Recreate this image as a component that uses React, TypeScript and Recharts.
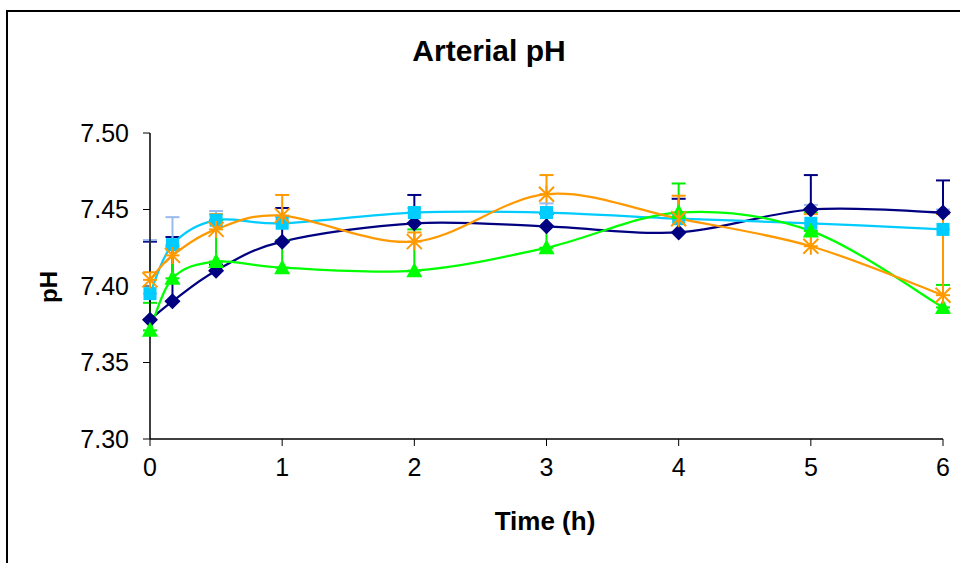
import React from 'react';
import { LineChart, Line, XAxis, YAxis, ErrorBar } from 'recharts';

/* ---------------------------------------------------------------------------
   Data
   --------------------------------------------------------------------------- */

const times = [0, 0.17, 0.5, 1, 2, 3, 4, 5, 6];

const navyPH   = [7.378, 7.390, 7.410, 7.429, 7.441, 7.439, 7.435, 7.450, 7.448];
const navyErr  = [0.051, 0.042, 0.004, 0.022, 0.0185, 0.008, 0.022, 0.0225, 0.021];

const cyanPH   = [7.395, 7.427, 7.443, 7.441, 7.448, 7.448, 7.444, 7.441, 7.437];
const cyanErr  = [0.035, 0.018, 0.006, 0.004, 0.003, 0.006, 0.003, 0.012, 0.013];

const greenPH  = [7.371, 7.405, 7.416, 7.412, 7.410, 7.425, 7.448, 7.436, 7.386];
const greenErr = [0.018, 0.021, 0.027, 0.018, 0.027, 0.014, 0.019, 0.012, 0.0147];

const orangePH  = [7.404, 7.420, 7.437, 7.446, 7.429, 7.460, 7.444, 7.426, 7.394];
const orangeErr = [0.005, 0.004, 0.010, 0.0135, 0.006, 0.0125, 0.015, 0.021, 0.053];

const xTicks = [0, 1, 2, 3, 4, 5, 6];
const yTicks = [7.30, 7.35, 7.40, 7.45, 7.50];

const data = times.map((t, i) => ({
  t,
  navy: navyPH[i],
  navyE: [0, navyErr[i]],
  cyan: cyanPH[i],
  cyanE: [0, cyanErr[i]],
  green: greenPH[i],
  greenE: [0, greenErr[i]],
  orange: orangePH[i],
  orangeE: [0, orangeErr[i]],
}));

/* ---------------------------------------------------------------------------
   Excel-style smoothing (Catmull-Rom through the points)
   --------------------------------------------------------------------------- */

function excelSmooth(context: any) {
  let pts: number[][] = [];
  return {
    areaStart() {},
    areaEnd() {},
    lineStart() { pts = []; },
    point(x: number, y: number) { pts.push([+x, +y]); },
    lineEnd() {
      if (!pts.length) return;
      context.moveTo(pts[0][0], pts[0][1]);
      for (let i = 0; i < pts.length - 1; i++) {
        const p0 = pts[i - 1] || pts[i];
        const p1 = pts[i];
        const p2 = pts[i + 1];
        const p3 = pts[i + 2] || p2;
        context.bezierCurveTo(
          p1[0] + (p2[0] - p0[0]) / 6, p1[1] + (p2[1] - p0[1]) / 6,
          p2[0] - (p3[0] - p1[0]) / 6, p2[1] - (p3[1] - p1[1]) / 6,
          p2[0], p2[1],
        );
      }
    },
  };
}

/* ---------------------------------------------------------------------------
   Markers
   --------------------------------------------------------------------------- */

const Diamond = ({ cx, cy }: any) => (
  <path d={`M${cx},${cy - 8}L${cx + 8},${cy}L${cx},${cy + 8}L${cx - 8},${cy}Z`} fill="#000080" />
);
const Square = ({ cx, cy }: any) => (
  <rect x={cx - 6.5} y={cy - 6.5} width={13} height={13} fill="#00CCFF" />
);
const Triangle = ({ cx, cy }: any) => (
  <path d={`M${cx},${cy - 8.5}L${cx + 8},${cy + 6.5}L${cx - 8},${cy + 6.5}Z`} fill="#00FF00" />
);
const Star = ({ cx, cy }: any) => (
  <path
    d={`M${cx - 7.5},${cy - 7.5}L${cx + 7.5},${cy + 7.5}M${cx + 7.5},${cy - 7.5}L${cx - 7.5},${cy + 7.5}M${cx},${cy - 8.5}L${cx},${cy + 8.5}`}
    stroke="#FF9900"
    strokeWidth={2}
    fill="none"
  />
);

const FONT = '"Liberation Sans", Arial, sans-serif';

export default function App() {
  const tick = { fill: '#000', fontSize: 25, fontFamily: FONT };
  return (
    <div style={{ position: 'fixed', left: 0, top: 0, width: 960, height: 563, overflow: 'hidden', background: '#fff' }}>
      <div style={{ position: 'absolute', left: 6, top: 10, width: 1000, height: 1000, border: '2px solid #000' }} />

      <div style={{ position: 'absolute', left: 389, top: 36, width: 200, textAlign: 'center', fontFamily: FONT, fontWeight: 'bold', fontSize: 30, lineHeight: '30px' }}>
        Arterial pH
      </div>
      <div style={{ position: 'absolute', left: 445, top: 508, width: 200, textAlign: 'center', fontFamily: FONT, fontWeight: 'bold', fontSize: 26, lineHeight: '26px' }}>
        Time (h)
      </div>
      <div style={{ position: 'absolute', left: 49, top: 287, transform: 'translate(-50%, -50%) rotate(-90deg)', fontFamily: FONT, fontWeight: 'bold', fontSize: 24, lineHeight: '24px', whiteSpace: 'nowrap' }}>
        pH
      </div>

      <div style={{ position: 'absolute', left: 0, top: 0 }}>
        <LineChart width={960} height={563} data={data} margin={{ top: 133, right: 17, bottom: 64, left: 0 }}>
          <XAxis
            dataKey="t"
            type="number"
            domain={[0, 6]}
            ticks={xTicks}
            height={60}
            tick={tick}
            tickSize={7}
            tickMargin={12}
            stroke="#000"
            axisLine={{ stroke: '#000', strokeWidth: 1.5 }}
          />
          <YAxis
            type="number"
            domain={[7.30, 7.50]}
            ticks={yTicks}
            width={150}
            tick={tick}
            tickSize={7}
            tickMargin={14}
            tickFormatter={(v: number) => v.toFixed(2)}
            stroke="#000"
            axisLine={{ stroke: '#000', strokeWidth: 1.5 }}
          />

          <Line
            dataKey="navy"
            type={excelSmooth as any}
            stroke="#000080"
            strokeWidth={2.25}
            dot={(p: any) => <Diamond key={`d-${p.index}`} {...p} />}
            activeDot={false}
            isAnimationActive={false}
          >
            <ErrorBar dataKey="navyE" direction="y" width={7} stroke="#000080" strokeWidth={2} />
          </Line>
          <Line
            dataKey="cyan"
            type={excelSmooth as any}
            stroke="#00CCFF"
            strokeWidth={2.25}
            dot={(p: any) => <Square key={`s-${p.index}`} {...p} />}
            activeDot={false}
            isAnimationActive={false}
          >
            <ErrorBar dataKey="cyanE" direction="y" width={7} stroke="#99BBEE" strokeWidth={2} />
          </Line>
          <Line
            dataKey="green"
            type={excelSmooth as any}
            stroke="#00FF00"
            strokeWidth={2.25}
            dot={(p: any) => <Triangle key={`t-${p.index}`} {...p} />}
            activeDot={false}
            isAnimationActive={false}
          >
            <ErrorBar dataKey="greenE" direction="y" width={7} stroke="#00EE00" strokeWidth={2} />
          </Line>
          <Line
            dataKey="orange"
            type={excelSmooth as any}
            stroke="#FF9900"
            strokeWidth={2.25}
            dot={(p: any) => <Star key={`x-${p.index}`} {...p} />}
            activeDot={false}
            isAnimationActive={false}
          >
            <ErrorBar dataKey="orangeE" direction="y" width={7} stroke="#FF9900" strokeWidth={2} />
          </Line>
        </LineChart>
      </div>
    </div>
  );
}
